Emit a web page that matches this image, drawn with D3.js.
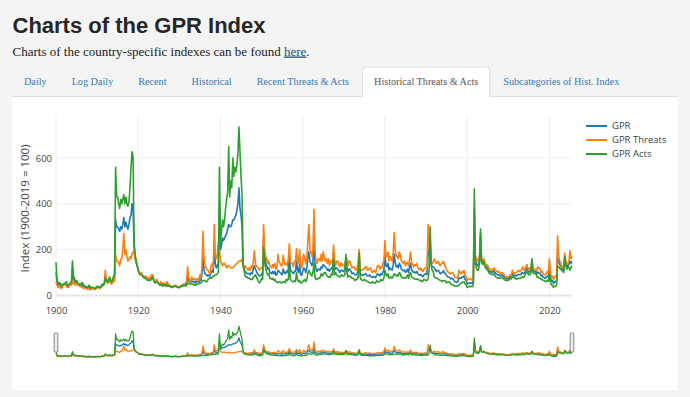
<!DOCTYPE html>
<html>
<head>
<meta charset="utf-8">
<script src="https://cdnjs.cloudflare.com/ajax/libs/d3/7.8.5/d3.min.js"></script>
<style>
  html, body { margin: 0; padding: 0; background: #f4f4f4; }
  svg { display: block; }
</style>
</head>
<body>
<div id="gpr-chart"></div>
<script>
// quarterly samples (Jan / Apr / Jul / Oct) starting Jan 1900, last one Jul 2025
const startYear = 1900;

const gpr = [
  100, 60, 45, 50, 48, 38, 40, 48, 48, 52, 50, 42, 40, 45, 52, 50, 110, 70, 65, 55,            // 1900-1904
  62, 52, 48, 45, 42, 45, 45, 38, 35, 38, 32, 30, 38, 32, 30, 32, 32, 30, 28, 32,              // 1905-1909
  35, 38, 35, 33, 38, 45, 45, 50, 90, 70, 58, 60, 72, 62, 55, 60, 78, 75, 330, 300,            // 1910-1914
  300, 290, 280, 300, 290, 310, 340, 300, 320, 300, 290, 310, 340, 350, 400, 380, 210, 170, 145, 130,
  110, 100, 92, 95, 88, 82, 78, 80, 75, 70, 68, 72, 70, 80, 85, 68, 60, 58, 65, 58,            // 1920-1924
  52, 48, 52, 50, 45, 48, 48, 40, 52, 45, 42, 42, 38, 36, 38, 40, 42, 40, 38, 35,
  35, 38, 42, 40, 48, 45, 48, 52, 85, 65, 60, 55, 65, 60, 58, 62, 55, 60, 62, 58,              // 1930-1934
  70, 65, 90, 170, 110, 95, 90, 85, 90, 85, 88, 100, 110, 100, 200, 140, 120, 130, 140, 400,
  200, 220, 250, 240, 250, 260, 270, 290, 310, 300, 300, 310, 330, 330, 340, 350, 370, 400, 470, 380, // 1940-1944
  350, 300, 130, 110, 105, 100, 95, 95, 95, 90, 100, 95, 115, 130, 115, 105, 95, 90, 85, 85,
  95, 90, 260, 170, 145, 130, 115, 120, 100, 100, 95, 105, 95, 105, 88, 92, 110, 105, 100, 95, // 1950-1954
  90, 115, 100, 95, 105, 100, 115, 175, 110, 105, 100, 95, 105, 105, 150, 110, 100, 135, 90, 88,
  105, 120, 115, 100, 120, 160, 190, 150, 140, 130, 150, 250, 140, 115, 105, 115, 115, 110, 125, 120, // 1960-1964
  135, 130, 125, 120, 110, 115, 105, 112, 120, 115, 190, 125, 115, 120, 115, 110, 100, 110, 110, 105,
  105, 120, 160, 120, 105, 115, 115, 105, 95, 98, 95, 90, 90, 95, 110, 165, 95, 90, 88, 90,    // 1970-1974
  90, 95, 92, 85, 85, 90, 85, 80, 80, 82, 80, 78, 90, 95, 90, 85, 95, 90, 100, 110,
  175, 130, 125, 140, 110, 120, 115, 110, 130, 180, 145, 125, 130, 120, 140, 130, 115, 110, 108, 112, // 1980-1984
  100, 105, 115, 100, 125, 140, 110, 105, 100, 102, 98, 105, 95, 90, 88, 92, 85, 82, 90, 92,
  95, 92, 230, 170, 250, 140, 125, 125, 120, 112, 105, 108, 110, 100, 95, 100, 100, 108, 98, 95, // 1990-1994
  85, 82, 80, 78, 72, 75, 72, 68, 60, 58, 58, 60, 78, 75, 75, 80, 80, 85, 70, 65,
  50, 52, 55, 55, 55, 52, 60, 380, 155, 140, 130, 135, 155, 270, 150, 140, 155, 140, 125, 125, // 2000-2004
  120, 110, 102, 105, 100, 102, 108, 100, 95, 92, 88, 90, 85, 88, 90, 85, 80, 76, 72, 74,
  72, 78, 82, 80, 98, 90, 85, 88, 85, 90, 92, 90, 90, 98, 100, 95, 98, 110, 120, 110,          // 2010-2014
  100, 105, 105, 155, 110, 105, 102, 105, 95, 102, 98, 95, 85, 88, 80, 78, 75, 80, 85, 82,
  120, 80, 62, 65, 52, 60, 60, 65, 190, 150, 135, 130, 115, 115, 115, 165, 140, 125, 130, 135, // 2020-2024
  150, 140, 150                                                                                 // 2025
];

const threats = [
  60, 45, 35, 40, 40, 30, 35, 45, 45, 50, 40, 35, 35, 40, 50, 45, 70, 50, 55, 45,
  60, 45, 45, 40, 40, 35, 35, 30, 30, 35, 30, 25, 30, 25, 25, 30, 30, 28, 25, 30,
  30, 35, 35, 30, 35, 40, 45, 50, 110, 70, 60, 55, 65, 55, 50, 55, 70, 60, 180, 150,
  150, 140, 130, 160, 160, 200, 270, 180, 200, 170, 150, 160, 170, 160, 180, 190, 190, 160, 140, 130,
  110, 100, 95, 100, 90, 85, 80, 85, 80, 75, 70, 80, 75, 90, 90, 70, 65, 60, 70, 60,
  55, 50, 60, 55, 50, 55, 45, 40, 60, 50, 45, 45, 40, 35, 35, 40, 45, 40, 40, 35,
  35, 40, 45, 40, 50, 45, 55, 60, 125, 80, 70, 60, 80, 70, 70, 75, 65, 70, 75, 65,
  90, 80, 120, 280, 165, 130, 120, 110, 110, 100, 95, 130, 140, 120, 310, 180, 160, 180, 230, 200,
  150, 140, 130, 140, 140, 130, 120, 130, 130, 125, 120, 120, 120, 125, 130, 135, 140, 145, 150, 150,
  150, 160, 130, 120, 130, 120, 115, 110, 120, 110, 130, 120, 150, 195, 140, 125, 125, 115, 110, 120,
  120, 115, 310, 200, 170, 160, 140, 150, 130, 125, 120, 135, 125, 140, 115, 120, 180, 150, 140, 130,
  130, 175, 145, 135, 140, 130, 160, 225, 150, 140, 140, 125, 150, 145, 205, 150, 140, 200, 130, 120,
  150, 180, 160, 140, 160, 240, 310, 200, 190, 170, 200, 375, 200, 150, 140, 160, 160, 150, 180, 150,
  190, 170, 150, 160, 140, 160, 130, 150, 150, 140, 220, 160, 130, 150, 150, 140, 125, 140, 140, 130,
  130, 140, 150, 160, 130, 150, 150, 130, 120, 125, 125, 115, 110, 120, 150, 200, 120, 110, 110, 115,
  115, 125, 125, 110, 110, 120, 120, 105, 100, 110, 105, 100, 120, 130, 130, 115, 125, 120, 140, 150,
  240, 170, 170, 190, 150, 170, 160, 150, 180, 275, 200, 170, 170, 160, 190, 175, 150, 145, 140, 150,
  130, 140, 145, 130, 160, 190, 140, 135, 125, 135, 130, 140, 120, 115, 110, 120, 110, 105, 115, 120,
  120, 115, 310, 200, 200, 150, 140, 145, 160, 150, 140, 145, 150, 135, 130, 140, 140, 150, 130, 125,
  110, 105, 100, 95, 95, 100, 100, 90, 80, 78, 75, 80, 110, 100, 95, 105, 100, 110, 90, 85,
  65, 70, 70, 75, 70, 65, 80, 250, 170, 160, 150, 160, 170, 250, 160, 145, 160, 150, 130, 135,
  130, 120, 110, 115, 110, 115, 120, 110, 110, 105, 100, 105, 95, 98, 100, 95, 90, 85, 80, 82,
  80, 85, 90, 88, 110, 100, 95, 100, 100, 105, 110, 105, 105, 115, 125, 110, 110, 125, 135, 120,
  110, 120, 115, 150, 120, 115, 110, 115, 110, 125, 120, 115, 100, 105, 95, 90, 90, 95, 105, 100,
  160, 100, 80, 85, 70, 80, 85, 90, 260, 170, 150, 145, 120, 125, 130, 185, 150, 135, 140, 150,
  195, 160, 170
];

const acts = [
  145, 70, 50, 55, 55, 45, 45, 50, 50, 55, 60, 48, 45, 50, 55, 55, 150, 85, 75, 60,
  65, 55, 50, 50, 45, 55, 55, 45, 40, 40, 35, 35, 45, 38, 35, 35, 35, 32, 30, 35,
  40, 40, 35, 35, 40, 50, 45, 50, 75, 70, 55, 65, 80, 70, 60, 65, 85, 90, 560, 430,
  430, 400, 380, 420, 400, 420, 440, 400, 430, 400, 390, 410, 470, 560, 627, 605, 230, 180, 150, 130,
  110, 95, 90, 90, 85, 80, 75, 75, 70, 65, 65, 65, 65, 75, 80, 65, 55, 55, 60, 55,
  50, 45, 45, 45, 40, 45, 50, 40, 45, 40, 40, 40, 35, 35, 40, 40, 40, 38, 35, 35,
  35, 35, 40, 40, 45, 45, 40, 45, 55, 50, 50, 50, 50, 50, 45, 50, 45, 50, 50, 50,
  55, 55, 60, 65, 65, 65, 60, 60, 70, 75, 80, 75, 80, 85, 85, 90, 90, 95, 100, 560,
  230, 280, 330, 300, 330, 380, 420, 450, 650, 430, 500, 470, 600, 520, 560, 540, 570, 620, 735, 630,
  520, 440, 140, 110, 85, 80, 80, 75, 75, 70, 70, 70, 80, 85, 90, 80, 70, 60, 55, 60,
  75, 70, 210, 140, 120, 100, 90, 95, 75, 75, 70, 75, 65, 70, 60, 60, 55, 60, 60, 55,
  55, 60, 60, 55, 70, 65, 70, 130, 70, 65, 60, 60, 65, 60, 100, 70, 60, 65, 55, 55,
  60, 65, 70, 60, 70, 95, 110, 100, 90, 85, 100, 140, 80, 70, 70, 75, 75, 80, 95, 85,
  90, 100, 100, 90, 85, 80, 80, 80, 95, 90, 160, 90, 100, 90, 85, 85, 80, 85, 90, 85,
  85, 90, 180, 100, 80, 85, 85, 80, 75, 75, 70, 65, 70, 70, 80, 185, 75, 70, 65, 65,
  70, 65, 65, 60, 60, 55, 55, 55, 60, 55, 55, 55, 65, 60, 60, 60, 70, 65, 65, 75,
  110, 90, 85, 95, 75, 80, 80, 75, 85, 95, 90, 85, 90, 85, 100, 95, 80, 78, 75, 78,
  75, 80, 90, 75, 95, 100, 80, 78, 75, 72, 70, 72, 70, 68, 65, 66, 60, 62, 70, 68,
  65, 65, 75, 110, 300, 130, 110, 105, 80, 78, 75, 75, 70, 68, 65, 65, 60, 65, 65, 62,
  55, 58, 60, 58, 50, 48, 45, 45, 40, 40, 40, 42, 45, 50, 55, 55, 60, 60, 50, 48,
  35, 38, 40, 38, 40, 38, 45, 465, 140, 120, 110, 110, 140, 290, 145, 135, 150, 130, 120, 115,
  110, 100, 95, 95, 90, 90, 95, 88, 80, 78, 75, 76, 75, 78, 80, 74, 70, 66, 65, 66,
  65, 70, 75, 72, 85, 80, 75, 76, 70, 74, 75, 74, 75, 80, 80, 78, 85, 95, 105, 98,
  90, 90, 95, 160, 100, 95, 95, 95, 80, 80, 75, 75, 70, 70, 65, 65, 60, 62, 65, 62,
  95, 60, 45, 45, 35, 40, 40, 45, 130, 125, 120, 115, 110, 105, 100, 170, 130, 115, 120, 125,
  110, 120, 130
];

const seriesNames = ['GPR', 'GPR Threats', 'GPR Acts'];
const xTickYears = [1900, 1920, 1940, 1960, 1980, 2000, 2020];
const yTicks = [0, 200, 400, 600];
const tabLabels = ['Daily', 'Log Daily', 'Recent', 'Historical', 'Recent Threats & Acts',
  'Historical Threats & Acts', 'Subcategories of Hist. Index'];
const activeTab = 'Historical Threats & Acts';

const colors = ['#1f77b4', '#ff7f0e', '#2ca02c'];
const W = 690, H = 397;

const svg = d3.select('#gpr-chart').append('svg')
  .attr('width', W)
  .attr('height', H);

// page header
svg.append('text')
  .attr('x', 12.5).attr('y', 33)
  .style('font', 'bold 22px "Liberation Sans", Arial, sans-serif')
  .style('fill', '#262626')
  .text('Charts of the GPR Index');

const sub = svg.append('text')
  .attr('x', 12.5).attr('y', 55.5)
  .style('font', '13px "Liberation Serif", "Times New Roman", serif')
  .style('fill', '#222');
sub.append('tspan').text('Charts of the country-specific indexes can be found ');
sub.append('tspan').text('here').style('fill', '#23527c').style('text-decoration', 'underline');
sub.append('tspan').text('.');

// white panel under the tabs
svg.append('rect')
  .attr('x', 12).attr('y', 96)
  .attr('width', 666).attr('height', 294)
  .attr('fill', '#fff');

svg.append('line')
  .attr('x1', 12).attr('x2', 678)
  .attr('y1', 96.5).attr('y2', 96.5)
  .attr('stroke', '#ddd');

// tabs
const tabs = svg.append('g');
let tabX = 12.5;
tabLabels.forEach((label) => {
  const isActive = label === activeTab;
  const g = tabs.append('g');
  const t = g.append('text')
    .attr('x', tabX + 11.5).attr('y', 85)
    .style('font', '10.2px "Liberation Serif", "Times New Roman", serif')
    .style('fill', isActive ? '#555' : '#337ab7')
    .text(label);
  const w = t.node().getComputedTextLength() + 23;
  if (isActive) {
    g.insert('path', 'text')
      .attr('d', `M${tabX},97 V70 a3,3 0 0 1 3,-3 H${tabX + w - 3} a3,3 0 0 1 3,3 V97`)
      .attr('fill', '#fff')
      .attr('stroke', '#ddd');
  }
  tabX += w + 2;
});

// chart geometry
const plot = { left: 56, right: 572, top: 115, bottom: 300 };
const slider = { top: 324, bottom: 359 };

const data = gpr.map((v, i) => ({
  date: new Date(startYear + Math.floor(i / 4), (i % 4) * 3, 1),
  gpr: v,
  threats: threats[i],
  acts: acts[i]
}));

const x = d3.scaleTime()
  .domain(d3.extent(data, (d) => d.date))
  .range([plot.left, plot.right]);
const y = d3.scaleLinear().domain([-20, 788]).range([plot.bottom, plot.top]);
const ySlider = d3.scaleLinear().domain([-20, 788]).range([slider.bottom, slider.top]);

const keys = ['gpr', 'threats', 'acts'];

// grid
svg.append('g')
  .selectAll('line')
  .data(xTickYears)
  .join('line')
  .attr('x1', (d) => x(new Date(d, 0, 1)))
  .attr('x2', (d) => x(new Date(d, 0, 1)))
  .attr('y1', plot.top).attr('y2', plot.bottom)
  .attr('stroke', '#eee');

svg.append('g')
  .selectAll('line')
  .data(yTicks)
  .join('line')
  .attr('x1', plot.left).attr('x2', plot.right)
  .attr('y1', (d) => y(d)).attr('y2', (d) => y(d))
  .attr('stroke', (d) => d === 0 ? '#e6e6e6' : '#eee')
  .attr('stroke-width', (d) => d === 0 ? 2 : 1);

// axes
const axisFont = '9.5px "Open Sans", sans-serif';
const xAxis = svg.append('g')
  .attr('transform', `translate(0, ${plot.bottom})`)
  .call(d3.axisBottom(x)
    .tickValues(xTickYears.map((yr) => new Date(yr, 0, 1)))
    .tickFormat(d3.timeFormat('%Y'))
    .tickSize(0)
    .tickPadding(7));
xAxis.select('.domain').remove();
xAxis.selectAll('text').style('font', axisFont).style('fill', '#444');

const yAxis = svg.append('g')
  .attr('transform', `translate(${plot.left}, 0)`)
  .call(d3.axisLeft(y).tickValues(yTicks).tickSize(0).tickPadding(4));
yAxis.select('.domain').remove();
yAxis.selectAll('text').style('font', axisFont).style('fill', '#444');

svg.append('text')
  .attr('transform', `translate(25, ${(plot.top + plot.bottom) / 2 + 1}) rotate(-90)`)
  .attr('text-anchor', 'middle')
  .attr('dy', '0.35em')
  .style('font', '11.5px "Open Sans", sans-serif')
  .style('fill', '#444')
  .text('Index (1900-2019 = 100)');

// main lines
keys.forEach((k, i) => {
  const line = d3.line()
    .x((d) => x(d.date))
    .y((d) => y(d[k]));
  svg.append('path')
    .datum(data)
    .attr('fill', 'none')
    .attr('stroke', colors[i])
    .attr('stroke-width', 1.6)
    .attr('stroke-linejoin', 'round')
    .attr('d', line);
});

// range slider
keys.forEach((k, i) => {
  const line = d3.line()
    .x((d) => x(d.date))
    .y((d) => ySlider(d[k]));
  svg.append('path')
    .datum(data)
    .attr('fill', 'none')
    .attr('stroke', colors[i])
    .attr('stroke-width', 1.3)
    .attr('stroke-linejoin', 'round')
    .attr('d', line);
});

[plot.left, plot.right].forEach((hx) => {
  svg.append('rect')
    .attr('x', hx - 1.8).attr('y', 333)
    .attr('width', 3.6).attr('height', 19)
    .attr('rx', 1)
    .attr('fill', '#eee')
    .attr('stroke', '#777')
    .attr('stroke-width', 0.9);
});

// legend
const legend = svg.append('g').attr('transform', 'translate(586, 126)');
seriesNames.forEach((name, i) => {
  const row = legend.append('g').attr('transform', `translate(0, ${i * 14})`);
  row.append('line')
    .attr('x1', 0).attr('x2', 21)
    .attr('stroke', colors[i])
    .attr('stroke-width', 2);
  row.append('text')
    .attr('x', 26).attr('dy', '0.35em')
    .style('font', '9.5px "Open Sans", sans-serif')
    .style('fill', '#444')
    .text(name);
});
</script>
</body>
</html>
